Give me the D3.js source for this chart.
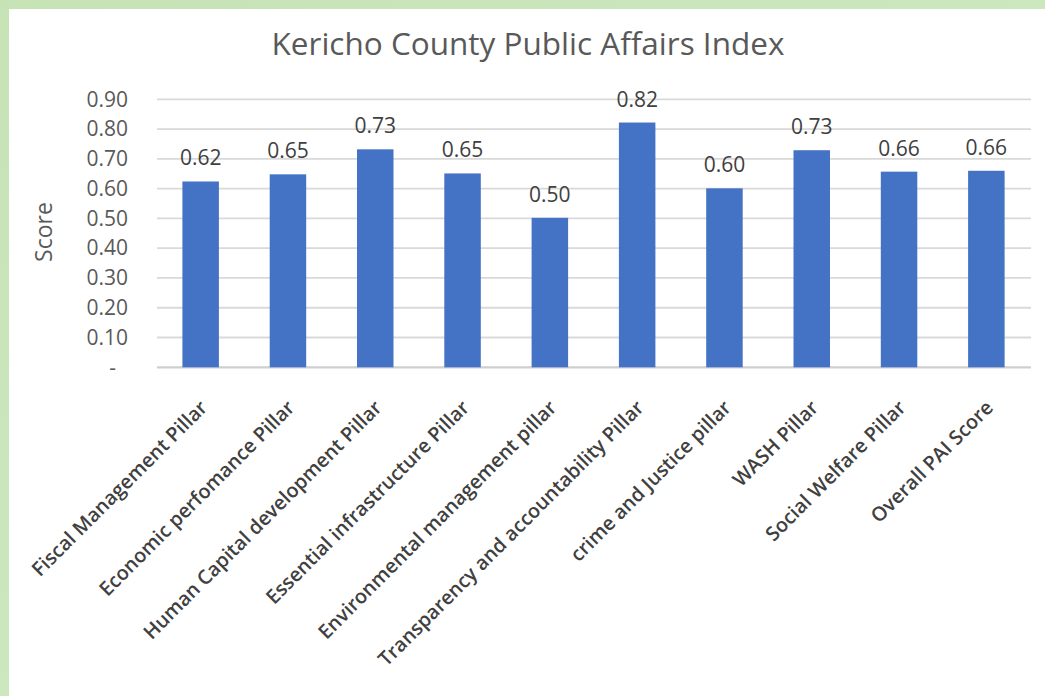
<!DOCTYPE html>
<html>
<head>
<meta charset="utf-8">
<script src="https://cdn.jsdelivr.net/npm/d3@7/dist/d3.min.js"></script>
<style>
  html, body { margin: 0; padding: 0; background: #cfe7c1; }
  svg { display: block; }
</style>
</head>
<body>
<script>
const categories = [
  "Fiscal Management Pillar",
  "Economic perfomance Pillar",
  "Human Capital development Pillar",
  "Essential infrastructure Pillar",
  "Environmental management pillar",
  "Transparency and accountability Pillar",
  "crime and Justice pillar",
  "WASH Pillar",
  "Social Welfare Pillar",
  "Overall PAI Score"
];
const scores = [0.624, 0.648, 0.732, 0.651, 0.502, 0.822, 0.601, 0.729, 0.657, 0.660];
const labels = ["0.62", "0.65", "0.73", "0.65", "0.50", "0.82", "0.60", "0.73", "0.66", "0.66"];
const yTicks = [0, 0.1, 0.2, 0.3, 0.4, 0.5, 0.6, 0.7, 0.8, 0.9];
const titleText = "Kericho County Public Affairs Index";
const yTitle = "Score";

const W = 1045, H = 696;
const svg = d3.select("body").append("svg").attr("width", W).attr("height", H);

const defs = svg.append("defs");
const grad = defs.append("linearGradient").attr("id", "bg").attr("x1", 0).attr("y1", 0).attr("x2", 1).attr("y2", 1);
grad.append("stop").attr("offset", 0).attr("stop-color", "#c6e3b6");
grad.append("stop").attr("offset", 1).attr("stop-color", "#d3eac6");
svg.append("rect").attr("width", W).attr("height", H).attr("fill", "url(#bg)");
svg.append("rect").attr("x", 9).attr("y", 9).attr("width", W - 9).attr("height", H - 9).attr("fill", "#ffffff");

const font = "'Open Sans', sans-serif";
const x = d3.scaleBand().domain(categories).range([157, 1030]).paddingInner(0.582).paddingOuter(0.291);
const y = d3.scaleLinear().domain([0, 0.9]).range([367.3, 99.3]);

// gridlines
svg.append("g").selectAll("line").data(yTicks).join("line")
  .attr("x1", 157).attr("x2", 1031)
  .attr("y1", d => y(d)).attr("y2", d => y(d))
  .attr("stroke", d => d === 0 ? "#cfcfcf" : "#d9d9d9")
  .attr("stroke-width", d => d === 0 ? 2.2 : 1.8);

// y axis via d3 axis
const yAxis = d3.axisLeft(y).tickValues(yTicks).tickSize(0).tickPadding(0)
  .tickFormat(d => d === 0 ? "-" : d3.format(".2f")(d));
const gy = svg.append("g").attr("transform", "translate(128,0)").call(yAxis);
gy.select(".domain").remove();
gy.selectAll("text")
  .attr("font-family", font).attr("font-size", 21).attr("fill", "#595959")
  .attr("dx", d => d === 0 ? -12 : 0);

// bars
svg.append("g").selectAll("rect").data(categories).join("rect")
  .attr("x", d => x(d))
  .attr("width", x.bandwidth())
  .attr("y", (d, i) => y(scores[i]))
  .attr("height", (d, i) => y(0) - y(scores[i]))
  .attr("fill", "#4472c4");

// data labels
svg.append("g").selectAll("text").data(categories).join("text")
  .attr("x", d => x(d) + x.bandwidth() / 2)
  .attr("y", (d, i) => y(scores[i]) - 16)
  .attr("text-anchor", "middle")
  .attr("font-family", font).attr("font-size", 21).attr("fill", "#404040")
  .text((d, i) => labels[i]);

// x axis labels
const xAxis = d3.axisBottom(x).tickSize(0).tickPadding(0);
const gx = svg.append("g").attr("transform", "translate(0,367)").call(xAxis);
gx.select(".domain").remove();
gx.selectAll("text")
  .attr("font-family", font).attr("font-size", 19.8).attr("font-weight", 600).attr("fill", "#404040")
  .attr("text-anchor", "end")
  .attr("y", 0).attr("dy", "0.35em")
  .attr("transform", "translate(3,37) rotate(-45)");

// title
svg.append("text").attr("x", 528).attr("y", 55).attr("text-anchor", "middle")
  .attr("font-family", font).attr("font-size", 31.5).attr("fill", "#595959")
  .text(titleText);

// y title
svg.append("text").attr("transform", "translate(52,232) rotate(-90)")
  .attr("text-anchor", "middle")
  .attr("font-family", font).attr("font-size", 23).attr("fill", "#595959")
  .text(yTitle);
</script>
</body>
</html>
